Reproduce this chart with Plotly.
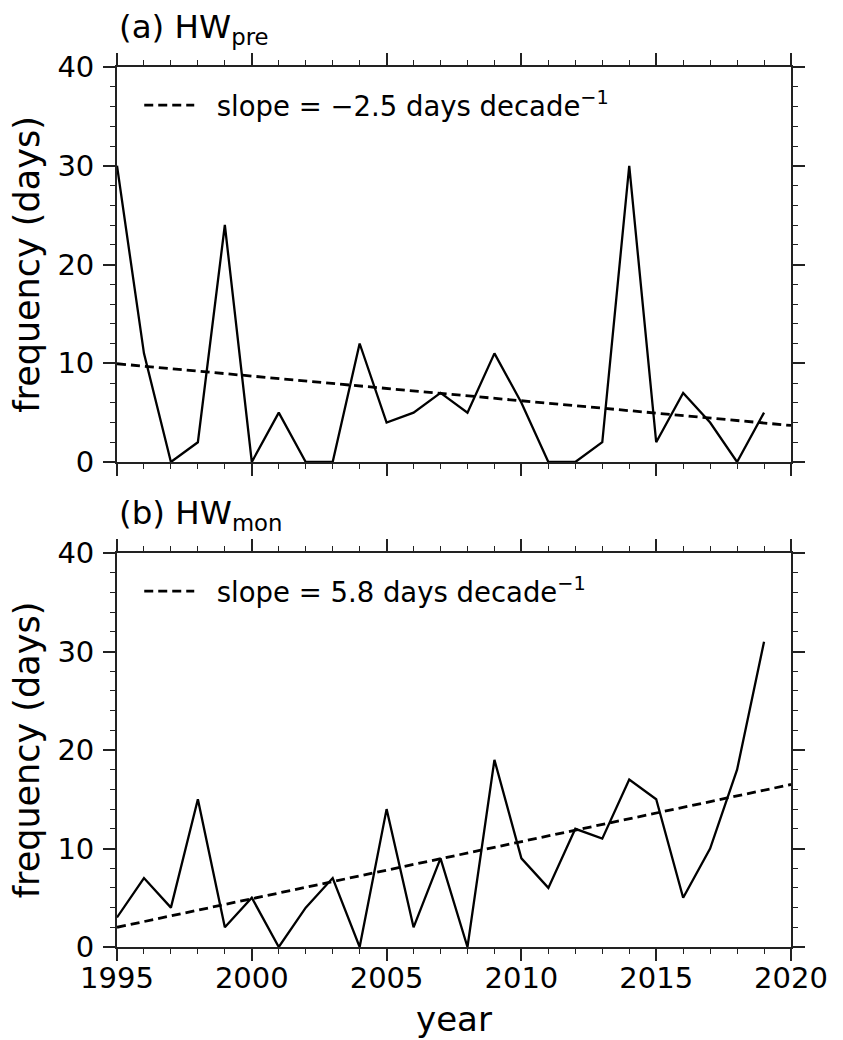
import plotly.graph_objects as go
from plotly.subplots import make_subplots

years = list(range(1995, 2020))
hw_pre = [30, 11, 0, 2, 24, 0, 5, 0, 0, 12, 4, 5, 7, 5, 11, 6, 0, 0, 2, 30, 2, 7, 4, 0, 5]
hw_mon = [3, 7, 4, 15, 2, 5, 0, 4, 7, 0, 14, 2, 9, 0, 19, 9, 6, 12, 11, 17, 15, 5, 10, 18, 31]

trend_years = [1995, 2020]
trend_pre = [9.95, 3.7]
trend_mon = [2.0, 16.5]

label_pre = "\u00a0\u00a0slope = −2.5 days decade<sup>−1</sup>"
label_mon = "\u00a0\u00a0slope = 5.8 days decade<sup>−1</sup>"
title_pre = "(a) HW<sub>pre</sub>"
title_mon = "(b) HW<sub>mon</sub>"

x_ticks = [1995, 2000, 2005, 2010, 2015, 2020]
y_ticks = [0, 10, 20, 30, 40]

FONT = "DejaVu Sans"
AX = "#222222"

fig = make_subplots(rows=2, cols=1, vertical_spacing=0.1034)

fig.add_trace(go.Scatter(x=years, y=hw_pre, mode="lines",
                         line=dict(color="black", width=2.3), showlegend=False), row=1, col=1)
fig.add_trace(go.Scatter(x=trend_years, y=trend_pre, mode="lines", name=label_pre,
                         line=dict(color="black", width=2.8, dash="9px,5px"),
                         legend="legend"), row=1, col=1)
fig.add_trace(go.Scatter(x=years, y=hw_mon, mode="lines",
                         line=dict(color="black", width=2.3), showlegend=False), row=2, col=1)
fig.add_trace(go.Scatter(x=trend_years, y=trend_mon, mode="lines", name=label_mon,
                         line=dict(color="black", width=2.8, dash="9px,5px"),
                         legend="legend2"), row=2, col=1)

bottom_px = 946.7
height_px = 880.0
def py(p):
    return (bottom_px - p) / height_px

top_a = 1.0
bot_a = py(461.7)
top_b = py(552.7)
bot_b = 0.0

common_x = dict(range=[1995, 2020], tickvals=x_ticks, ticks="outside", ticklen=12,
                tickwidth=1.8, tickcolor=AX, showline=True, linecolor=AX, linewidth=1.8,
                mirror="ticks", showgrid=False, zeroline=False, automargin=False,
                minor=dict(dtick=1, ticks="outside", ticklen=5, tickwidth=1.4, tickcolor=AX,
                           showgrid=False),
                tickfont=dict(family=FONT, size=29, color="black"))
common_y = dict(range=[0, 40], tickvals=y_ticks, ticks="outside", ticklen=12,
                tickwidth=1.8, tickcolor=AX, showline=True, linecolor=AX, linewidth=1.8,
                mirror="ticks", showgrid=False, zeroline=False, ticklabelstandoff=3,
                automargin=False,
                minor=dict(dtick=2, ticks="outside", ticklen=5, tickwidth=1.4, tickcolor=AX,
                           showgrid=False),
                tickfont=dict(family=FONT, size=29, color="black"),
                title=dict(text="frequency (days)", font=dict(family=FONT, size=35, color="black"),
                           standoff=7))

fig.update_xaxes(**common_x)
fig.update_yaxes(**common_y)
fig.update_xaxes(showticklabels=False, domain=[0, 1], row=1, col=1)
fig.update_xaxes(ticklabelstandoff=-8, row=2, col=1)
fig.update_xaxes(title=dict(text="year", font=dict(family=FONT, size=34, color="black"),
                            standoff=13), row=2, col=1)
fig.update_yaxes(domain=[bot_a, top_a], row=1, col=1)
fig.update_yaxes(domain=[bot_b, top_b], row=2, col=1)

leg_common = dict(bgcolor="rgba(0,0,0,0)", borderwidth=0, xanchor="left", yanchor="middle",
                  font=dict(family=FONT, size=27.5, color="black"), itemwidth=50)
fig.update_layout(
    legend=dict(x=0.033, y=py(105), **leg_common),
    legend2=dict(x=0.033, y=py(591), **leg_common),
)

fig.add_annotation(text=title_pre, xref="paper", yref="paper", x=0.0, y=py(29),
                   xanchor="left", yanchor="middle", showarrow=False,
                   font=dict(family=FONT, size=32.5, color="black"))
fig.add_annotation(text=title_mon, xref="paper", yref="paper", x=0.0, y=py(515),
                   xanchor="left", yanchor="middle", showarrow=False,
                   font=dict(family=FONT, size=32.5, color="black"))

fig.update_layout(width=843, height=1040,
                  margin=dict(l=117, r=52, t=66.7, b=93.3, autoexpand=False),
                  paper_bgcolor="white", plot_bgcolor="white",
                  font=dict(family=FONT, color="black"))

fig.write_html("out.html", config={"displayModeBar": False},
               post_script="document.body.style.margin='0';")
